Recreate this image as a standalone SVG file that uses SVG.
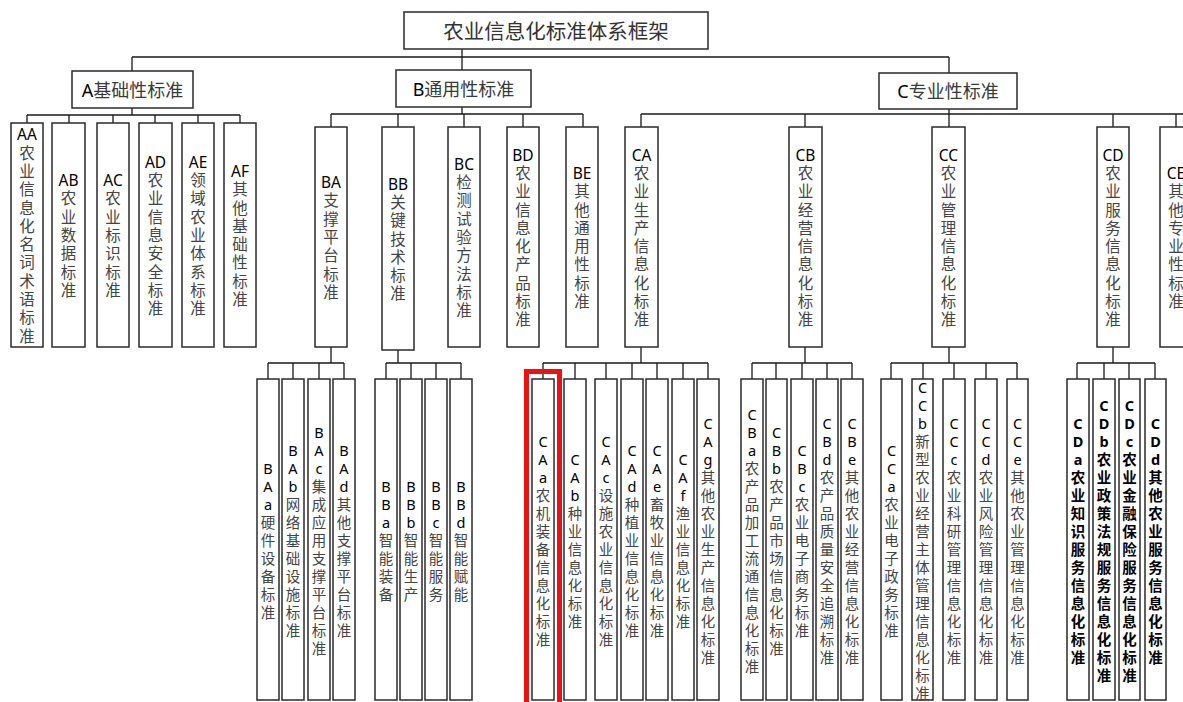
<svg xmlns="http://www.w3.org/2000/svg" width="1183" height="702" viewBox="0 0 1183 702">
<style>
.b{fill:#fff;stroke:#2b2b2b;stroke-width:1.5}
.c{fill:none;stroke:#1a1a1a;stroke-width:1.3}
text{font-family:"Noto Sans","Noto Sans CJK SC",sans-serif;text-anchor:middle;dominant-baseline:central;fill:#444}
.h{font-size:20.5px;fill:#333}
.g{font-size:18px;fill:#3a3a3a}
.m{font-size:15.5px}
.s{font-size:14.5px}
.l{fill:#000}
.k{fill:#000;font-weight:bold}
</style>
<rect width="1183" height="702" fill="#fff"/>
<g id="connectors" class="c">
<path d="M462 49V70M132 57H949M132 57V71M949 57V73"/>
<path d="M132 108V115M27 115H240M27 115V123M69 115V123M113 115V123M155 115V123M198 115V123M240 115V123"/>
<path d="M462 107V114M331 114H583M331 114V127M398 114V127M464 114V127M523 114V127M583 114V127"/>
<path d="M949 109V114M641 114H1183M641 114V127M805 114V127M949 114V127M1113 114V127M1176 114V127"/>
<path d="M331 347V363M268 363H344M268 363V379M293 363V379M319 363V379M344 363V379"/>
<path d="M398 350V363M386 363H461M386 363V379M411 363V379M436 363V379M461 363V379"/>
<path d="M641 347V363M543 363H708M543 363V379M575 363V379M606 363V379M632 363V379M657 363V379M683 363V379M708 363V379"/>
<path d="M805 347V363M752 363H852M752 363V379M776 363V379M802 363V379M827 363V379M852 363V379"/>
<path d="M949 347V363M891 363H1017M891 363V379M923 363V379M954 363V379M986 363V379M1017 363V379"/>
<path d="M1113 347V363M1077 363H1155M1077 363V379M1104 363V379M1129 363V379M1155 363V379"/>
</g>
<g id="root"><rect class="b" x="404" y="12" width="304" height="37"/><text class="h" x="556" y="31">农业信息化标准体系框架</text></g>
<g id="A"><rect class="b" x="72" y="71" width="121" height="37"/><text class="g" x="132.5" y="89.5"><tspan class="l">A</tspan>基础性标准</text></g>
<g id="B"><rect class="b" x="396" y="70" width="135" height="37"/><text class="g" x="463.5" y="88.5"><tspan class="l">B</tspan>通用性标准</text></g>
<g id="C"><rect class="b" x="879" y="73" width="138" height="36"/><text class="g" x="948" y="91"><tspan class="l">C</tspan>专业性标准</text></g>

<g id="AA"><rect class="b" x="11" y="123" width="32" height="224"/><text class="m" y="134.35"><tspan class="l" x="27">AA</tspan><tspan x="27" dy="18.3">农</tspan><tspan x="27" dy="18.3">业</tspan><tspan x="27" dy="18.3">信</tspan><tspan x="27" dy="18.3">息</tspan><tspan x="27" dy="18.3">化</tspan><tspan x="27" dy="18.3">名</tspan><tspan x="27" dy="18.3">词</tspan><tspan x="27" dy="18.3">术</tspan><tspan x="27" dy="18.3">语</tspan><tspan x="27" dy="18.3">标</tspan><tspan x="27" dy="18.3">准</tspan></text></g>
<g id="AB"><rect class="b" x="52" y="123" width="33" height="224"/><text class="m" y="180.1"><tspan class="l" x="68.5">AB</tspan><tspan x="68.5" dy="18.3">农</tspan><tspan x="68.5" dy="18.3">业</tspan><tspan x="68.5" dy="18.3">数</tspan><tspan x="68.5" dy="18.3">据</tspan><tspan x="68.5" dy="18.3">标</tspan><tspan x="68.5" dy="18.3">准</tspan></text></g>
<g id="AC"><rect class="b" x="97" y="123" width="32" height="224"/><text class="m" y="180.1"><tspan class="l" x="113">AC</tspan><tspan x="113" dy="18.3">农</tspan><tspan x="113" dy="18.3">业</tspan><tspan x="113" dy="18.3">标</tspan><tspan x="113" dy="18.3">识</tspan><tspan x="113" dy="18.3">标</tspan><tspan x="113" dy="18.3">准</tspan></text></g>
<g id="AD"><rect class="b" x="139" y="123" width="33" height="224"/><text class="m" y="161.8"><tspan class="l" x="155.5">AD</tspan><tspan x="155.5" dy="18.3">农</tspan><tspan x="155.5" dy="18.3">业</tspan><tspan x="155.5" dy="18.3">信</tspan><tspan x="155.5" dy="18.3">息</tspan><tspan x="155.5" dy="18.3">安</tspan><tspan x="155.5" dy="18.3">全</tspan><tspan x="155.5" dy="18.3">标</tspan><tspan x="155.5" dy="18.3">准</tspan></text></g>
<g id="AE"><rect class="b" x="182" y="123" width="32" height="224"/><text class="m" y="161.8"><tspan class="l" x="198">AE</tspan><tspan x="198" dy="18.3">领</tspan><tspan x="198" dy="18.3">域</tspan><tspan x="198" dy="18.3">农</tspan><tspan x="198" dy="18.3">业</tspan><tspan x="198" dy="18.3">体</tspan><tspan x="198" dy="18.3">系</tspan><tspan x="198" dy="18.3">标</tspan><tspan x="198" dy="18.3">准</tspan></text></g>
<g id="AF"><rect class="b" x="224" y="123" width="32" height="224"/><text class="m" y="170.95"><tspan class="l" x="240">AF</tspan><tspan x="240" dy="18.3">其</tspan><tspan x="240" dy="18.3">他</tspan><tspan x="240" dy="18.3">基</tspan><tspan x="240" dy="18.3">础</tspan><tspan x="240" dy="18.3">性</tspan><tspan x="240" dy="18.3">标</tspan><tspan x="240" dy="18.3">准</tspan></text></g>

<g id="BA"><rect class="b" x="315" y="127" width="32" height="220"/><text class="m" y="182.1"><tspan class="l" x="331">BA</tspan><tspan x="331" dy="18.3">支</tspan><tspan x="331" dy="18.3">撑</tspan><tspan x="331" dy="18.3">平</tspan><tspan x="331" dy="18.3">台</tspan><tspan x="331" dy="18.3">标</tspan><tspan x="331" dy="18.3">准</tspan></text></g>
<g id="BB"><rect class="b" x="382" y="127" width="32" height="223"/><text class="m" y="183.6"><tspan class="l" x="398">BB</tspan><tspan x="398" dy="18.3">关</tspan><tspan x="398" dy="18.3">键</tspan><tspan x="398" dy="18.3">技</tspan><tspan x="398" dy="18.3">术</tspan><tspan x="398" dy="18.3">标</tspan><tspan x="398" dy="18.3">准</tspan></text></g>
<g id="BC"><rect class="b" x="448" y="127" width="32" height="220"/><text class="m" y="163.8"><tspan class="l" x="464">BC</tspan><tspan x="464" dy="18.3">检</tspan><tspan x="464" dy="18.3">测</tspan><tspan x="464" dy="18.3">试</tspan><tspan x="464" dy="18.3">验</tspan><tspan x="464" dy="18.3">方</tspan><tspan x="464" dy="18.3">法</tspan><tspan x="464" dy="18.3">标</tspan><tspan x="464" dy="18.3">准</tspan></text></g>
<g id="BD"><rect class="b" x="507" y="127" width="32" height="220"/><text class="m" y="154.65"><tspan class="l" x="523">BD</tspan><tspan x="523" dy="18.3">农</tspan><tspan x="523" dy="18.3">业</tspan><tspan x="523" dy="18.3">信</tspan><tspan x="523" dy="18.3">息</tspan><tspan x="523" dy="18.3">化</tspan><tspan x="523" dy="18.3">产</tspan><tspan x="523" dy="18.3">品</tspan><tspan x="523" dy="18.3">标</tspan><tspan x="523" dy="18.3">准</tspan></text></g>
<g id="BE"><rect class="b" x="566" y="127" width="32" height="220"/><text class="m" y="172.95"><tspan class="l" x="582">BE</tspan><tspan x="582" dy="18.3">其</tspan><tspan x="582" dy="18.3">他</tspan><tspan x="582" dy="18.3">通</tspan><tspan x="582" dy="18.3">用</tspan><tspan x="582" dy="18.3">性</tspan><tspan x="582" dy="18.3">标</tspan><tspan x="582" dy="18.3">准</tspan></text></g>

<g id="CA"><rect class="b" x="625" y="127" width="33" height="220"/><text class="m" y="154.65"><tspan class="l" x="641.5">CA</tspan><tspan x="641.5" dy="18.3">农</tspan><tspan x="641.5" dy="18.3">业</tspan><tspan x="641.5" dy="18.3">生</tspan><tspan x="641.5" dy="18.3">产</tspan><tspan x="641.5" dy="18.3">信</tspan><tspan x="641.5" dy="18.3">息</tspan><tspan x="641.5" dy="18.3">化</tspan><tspan x="641.5" dy="18.3">标</tspan><tspan x="641.5" dy="18.3">准</tspan></text></g>
<g id="CB"><rect class="b" x="789" y="127" width="33" height="220"/><text class="m" y="154.65"><tspan class="l" x="805.5">CB</tspan><tspan x="805.5" dy="18.3">农</tspan><tspan x="805.5" dy="18.3">业</tspan><tspan x="805.5" dy="18.3">经</tspan><tspan x="805.5" dy="18.3">营</tspan><tspan x="805.5" dy="18.3">信</tspan><tspan x="805.5" dy="18.3">息</tspan><tspan x="805.5" dy="18.3">化</tspan><tspan x="805.5" dy="18.3">标</tspan><tspan x="805.5" dy="18.3">准</tspan></text></g>
<g id="CC"><rect class="b" x="932" y="127" width="33" height="220"/><text class="m" y="154.65"><tspan class="l" x="948.5">CC</tspan><tspan x="948.5" dy="18.3">农</tspan><tspan x="948.5" dy="18.3">业</tspan><tspan x="948.5" dy="18.3">管</tspan><tspan x="948.5" dy="18.3">理</tspan><tspan x="948.5" dy="18.3">信</tspan><tspan x="948.5" dy="18.3">息</tspan><tspan x="948.5" dy="18.3">化</tspan><tspan x="948.5" dy="18.3">标</tspan><tspan x="948.5" dy="18.3">准</tspan></text></g>
<g id="CD"><rect class="b" x="1097" y="127" width="32" height="220"/><text class="m" y="154.65"><tspan class="l" x="1113">CD</tspan><tspan x="1113" dy="18.3">农</tspan><tspan x="1113" dy="18.3">业</tspan><tspan x="1113" dy="18.3">服</tspan><tspan x="1113" dy="18.3">务</tspan><tspan x="1113" dy="18.3">信</tspan><tspan x="1113" dy="18.3">息</tspan><tspan x="1113" dy="18.3">化</tspan><tspan x="1113" dy="18.3">标</tspan><tspan x="1113" dy="18.3">准</tspan></text></g>
<g id="CE"><rect class="b" x="1160" y="127" width="32" height="220"/><text class="m" y="172.95"><tspan class="l" x="1176">CE</tspan><tspan x="1176" dy="18.3">其</tspan><tspan x="1176" dy="18.3">他</tspan><tspan x="1176" dy="18.3">专</tspan><tspan x="1176" dy="18.3">业</tspan><tspan x="1176" dy="18.3">性</tspan><tspan x="1176" dy="18.3">标</tspan><tspan x="1176" dy="18.3">准</tspan></text></g>

<g id="BAa"><rect class="b" x="257" y="379" width="22" height="321"/><text class="s" y="467.5"><tspan class="l" x="268">B</tspan><tspan class="l" x="268" dy="18">A</tspan><tspan class="l" x="268" dy="18">a</tspan><tspan x="268" dy="18">硬</tspan><tspan x="268" dy="18">件</tspan><tspan x="268" dy="18">设</tspan><tspan x="268" dy="18">备</tspan><tspan x="268" dy="18">标</tspan><tspan x="268" dy="18">准</tspan></text></g>
<g id="BAb"><rect class="b" x="282" y="379" width="22" height="321"/><text class="s" y="449.5"><tspan class="l" x="293">B</tspan><tspan class="l" x="293" dy="18">A</tspan><tspan class="l" x="293" dy="18">b</tspan><tspan x="293" dy="18">网</tspan><tspan x="293" dy="18">络</tspan><tspan x="293" dy="18">基</tspan><tspan x="293" dy="18">础</tspan><tspan x="293" dy="18">设</tspan><tspan x="293" dy="18">施</tspan><tspan x="293" dy="18">标</tspan><tspan x="293" dy="18">准</tspan></text></g>
<g id="BAc"><rect class="b" x="308" y="379" width="22" height="321"/><text class="s" y="431.5"><tspan class="l" x="319">B</tspan><tspan class="l" x="319" dy="18">A</tspan><tspan class="l" x="319" dy="18">c</tspan><tspan x="319" dy="18">集</tspan><tspan x="319" dy="18">成</tspan><tspan x="319" dy="18">应</tspan><tspan x="319" dy="18">用</tspan><tspan x="319" dy="18">支</tspan><tspan x="319" dy="18">撑</tspan><tspan x="319" dy="18">平</tspan><tspan x="319" dy="18">台</tspan><tspan x="319" dy="18">标</tspan><tspan x="319" dy="18">准</tspan></text></g>
<g id="BAd"><rect class="b" x="333" y="379" width="22" height="321"/><text class="s" y="449.5"><tspan class="l" x="344">B</tspan><tspan class="l" x="344" dy="18">A</tspan><tspan class="l" x="344" dy="18">d</tspan><tspan x="344" dy="18">其</tspan><tspan x="344" dy="18">他</tspan><tspan x="344" dy="18">支</tspan><tspan x="344" dy="18">撑</tspan><tspan x="344" dy="18">平</tspan><tspan x="344" dy="18">台</tspan><tspan x="344" dy="18">标</tspan><tspan x="344" dy="18">准</tspan></text></g>

<g id="BBa"><rect class="b" x="375" y="379" width="22" height="321"/><text class="s" y="485.5"><tspan class="l" x="386">B</tspan><tspan class="l" x="386" dy="18">B</tspan><tspan class="l" x="386" dy="18">a</tspan><tspan x="386" dy="18">智</tspan><tspan x="386" dy="18">能</tspan><tspan x="386" dy="18">装</tspan><tspan x="386" dy="18">备</tspan></text></g>
<g id="BBb"><rect class="b" x="400" y="379" width="22" height="321"/><text class="s" y="485.5"><tspan class="l" x="411">B</tspan><tspan class="l" x="411" dy="18">B</tspan><tspan class="l" x="411" dy="18">b</tspan><tspan x="411" dy="18">智</tspan><tspan x="411" dy="18">能</tspan><tspan x="411" dy="18">生</tspan><tspan x="411" dy="18">产</tspan></text></g>
<g id="BBc"><rect class="b" x="425" y="379" width="22" height="321"/><text class="s" y="485.5"><tspan class="l" x="436">B</tspan><tspan class="l" x="436" dy="18">B</tspan><tspan class="l" x="436" dy="18">c</tspan><tspan x="436" dy="18">智</tspan><tspan x="436" dy="18">能</tspan><tspan x="436" dy="18">服</tspan><tspan x="436" dy="18">务</tspan></text></g>
<g id="BBd"><rect class="b" x="450" y="379" width="22" height="321"/><text class="s" y="485.5"><tspan class="l" x="461">B</tspan><tspan class="l" x="461" dy="18">B</tspan><tspan class="l" x="461" dy="18">d</tspan><tspan x="461" dy="18">智</tspan><tspan x="461" dy="18">能</tspan><tspan x="461" dy="18">赋</tspan><tspan x="461" dy="18">能</tspan></text></g>

<g id="CAa"><rect class="b" x="532" y="379" width="22" height="321"/><text class="s" y="440.5"><tspan class="l" x="543">C</tspan><tspan class="l" x="543" dy="18">A</tspan><tspan class="l" x="543" dy="18">a</tspan><tspan x="543" dy="18">农</tspan><tspan x="543" dy="18">机</tspan><tspan x="543" dy="18">装</tspan><tspan x="543" dy="18">备</tspan><tspan x="543" dy="18">信</tspan><tspan x="543" dy="18">息</tspan><tspan x="543" dy="18">化</tspan><tspan x="543" dy="18">标</tspan><tspan x="543" dy="18">准</tspan></text></g>
<g id="CAb"><rect class="b" x="564" y="379" width="22" height="321"/><text class="s" y="458.5"><tspan class="l" x="575">C</tspan><tspan class="l" x="575" dy="18">A</tspan><tspan class="l" x="575" dy="18">b</tspan><tspan x="575" dy="18">种</tspan><tspan x="575" dy="18">业</tspan><tspan x="575" dy="18">信</tspan><tspan x="575" dy="18">息</tspan><tspan x="575" dy="18">化</tspan><tspan x="575" dy="18">标</tspan><tspan x="575" dy="18">准</tspan></text></g>
<g id="CAc"><rect class="b" x="595" y="379" width="22" height="321"/><text class="s" y="440.5"><tspan class="l" x="606">C</tspan><tspan class="l" x="606" dy="18">A</tspan><tspan class="l" x="606" dy="18">c</tspan><tspan x="606" dy="18">设</tspan><tspan x="606" dy="18">施</tspan><tspan x="606" dy="18">农</tspan><tspan x="606" dy="18">业</tspan><tspan x="606" dy="18">信</tspan><tspan x="606" dy="18">息</tspan><tspan x="606" dy="18">化</tspan><tspan x="606" dy="18">标</tspan><tspan x="606" dy="18">准</tspan></text></g>
<g id="CAd"><rect class="b" x="621" y="379" width="22" height="321"/><text class="s" y="449.5"><tspan class="l" x="632">C</tspan><tspan class="l" x="632" dy="18">A</tspan><tspan class="l" x="632" dy="18">d</tspan><tspan x="632" dy="18">种</tspan><tspan x="632" dy="18">植</tspan><tspan x="632" dy="18">业</tspan><tspan x="632" dy="18">信</tspan><tspan x="632" dy="18">息</tspan><tspan x="632" dy="18">化</tspan><tspan x="632" dy="18">标</tspan><tspan x="632" dy="18">准</tspan></text></g>
<g id="CAe"><rect class="b" x="646" y="379" width="22" height="321"/><text class="s" y="449.5"><tspan class="l" x="657">C</tspan><tspan class="l" x="657" dy="18">A</tspan><tspan class="l" x="657" dy="18">e</tspan><tspan x="657" dy="18">畜</tspan><tspan x="657" dy="18">牧</tspan><tspan x="657" dy="18">业</tspan><tspan x="657" dy="18">信</tspan><tspan x="657" dy="18">息</tspan><tspan x="657" dy="18">化</tspan><tspan x="657" dy="18">标</tspan><tspan x="657" dy="18">准</tspan></text></g>
<g id="CAf"><rect class="b" x="672" y="379" width="22" height="321"/><text class="s" y="458.5"><tspan class="l" x="683">C</tspan><tspan class="l" x="683" dy="18">A</tspan><tspan class="l" x="683" dy="18">f</tspan><tspan x="683" dy="18">渔</tspan><tspan x="683" dy="18">业</tspan><tspan x="683" dy="18">信</tspan><tspan x="683" dy="18">息</tspan><tspan x="683" dy="18">化</tspan><tspan x="683" dy="18">标</tspan><tspan x="683" dy="18">准</tspan></text></g>
<g id="CAg"><rect class="b" x="697" y="379" width="22" height="321"/><text class="s" y="422.5"><tspan class="l" x="708">C</tspan><tspan class="l" x="708" dy="18">A</tspan><tspan class="l" x="708" dy="18">g</tspan><tspan x="708" dy="18">其</tspan><tspan x="708" dy="18">他</tspan><tspan x="708" dy="18">农</tspan><tspan x="708" dy="18">业</tspan><tspan x="708" dy="18">生</tspan><tspan x="708" dy="18">产</tspan><tspan x="708" dy="18">信</tspan><tspan x="708" dy="18">息</tspan><tspan x="708" dy="18">化</tspan><tspan x="708" dy="18">标</tspan><tspan x="708" dy="18">准</tspan></text></g>

<g id="CBa"><rect class="b" x="741" y="379" width="22" height="321"/><text class="s" y="413.5"><tspan class="l" x="752">C</tspan><tspan class="l" x="752" dy="18">B</tspan><tspan class="l" x="752" dy="18">a</tspan><tspan x="752" dy="18">农</tspan><tspan x="752" dy="18">产</tspan><tspan x="752" dy="18">品</tspan><tspan x="752" dy="18">加</tspan><tspan x="752" dy="18">工</tspan><tspan x="752" dy="18">流</tspan><tspan x="752" dy="18">通</tspan><tspan x="752" dy="18">信</tspan><tspan x="752" dy="18">息</tspan><tspan x="752" dy="18">化</tspan><tspan x="752" dy="18">标</tspan><tspan x="752" dy="18">准</tspan></text></g>
<g id="CBb"><rect class="b" x="766" y="379" width="21" height="321"/><text class="s" y="431.5"><tspan class="l" x="776.5">C</tspan><tspan class="l" x="776.5" dy="18">B</tspan><tspan class="l" x="776.5" dy="18">b</tspan><tspan x="776.5" dy="18">农</tspan><tspan x="776.5" dy="18">产</tspan><tspan x="776.5" dy="18">品</tspan><tspan x="776.5" dy="18">市</tspan><tspan x="776.5" dy="18">场</tspan><tspan x="776.5" dy="18">信</tspan><tspan x="776.5" dy="18">息</tspan><tspan x="776.5" dy="18">化</tspan><tspan x="776.5" dy="18">标</tspan><tspan x="776.5" dy="18">准</tspan></text></g>
<g id="CBc"><rect class="b" x="791" y="379" width="22" height="321"/><text class="s" y="449.5"><tspan class="l" x="802">C</tspan><tspan class="l" x="802" dy="18">B</tspan><tspan class="l" x="802" dy="18">c</tspan><tspan x="802" dy="18">农</tspan><tspan x="802" dy="18">业</tspan><tspan x="802" dy="18">电</tspan><tspan x="802" dy="18">子</tspan><tspan x="802" dy="18">商</tspan><tspan x="802" dy="18">务</tspan><tspan x="802" dy="18">标</tspan><tspan x="802" dy="18">准</tspan></text></g>
<g id="CBd"><rect class="b" x="816" y="379" width="22" height="321"/><text class="s" y="422.5"><tspan class="l" x="827">C</tspan><tspan class="l" x="827" dy="18">B</tspan><tspan class="l" x="827" dy="18">d</tspan><tspan x="827" dy="18">农</tspan><tspan x="827" dy="18">产</tspan><tspan x="827" dy="18">品</tspan><tspan x="827" dy="18">质</tspan><tspan x="827" dy="18">量</tspan><tspan x="827" dy="18">安</tspan><tspan x="827" dy="18">全</tspan><tspan x="827" dy="18">追</tspan><tspan x="827" dy="18">溯</tspan><tspan x="827" dy="18">标</tspan><tspan x="827" dy="18">准</tspan></text></g>
<g id="CBe"><rect class="b" x="841" y="379" width="22" height="321"/><text class="s" y="422.5"><tspan class="l" x="852">C</tspan><tspan class="l" x="852" dy="18">B</tspan><tspan class="l" x="852" dy="18">e</tspan><tspan x="852" dy="18">其</tspan><tspan x="852" dy="18">他</tspan><tspan x="852" dy="18">农</tspan><tspan x="852" dy="18">业</tspan><tspan x="852" dy="18">经</tspan><tspan x="852" dy="18">营</tspan><tspan x="852" dy="18">信</tspan><tspan x="852" dy="18">息</tspan><tspan x="852" dy="18">化</tspan><tspan x="852" dy="18">标</tspan><tspan x="852" dy="18">准</tspan></text></g>

<g id="CCa"><rect class="b" x="881" y="379" width="21" height="321"/><text class="s" y="449.5"><tspan class="l" x="891.5">C</tspan><tspan class="l" x="891.5" dy="18">C</tspan><tspan class="l" x="891.5" dy="18">a</tspan><tspan x="891.5" dy="18">农</tspan><tspan x="891.5" dy="18">业</tspan><tspan x="891.5" dy="18">电</tspan><tspan x="891.5" dy="18">子</tspan><tspan x="891.5" dy="18">政</tspan><tspan x="891.5" dy="18">务</tspan><tspan x="891.5" dy="18">标</tspan><tspan x="891.5" dy="18">准</tspan></text></g>
<g id="CCb"><rect class="b" x="912" y="379" width="21" height="321"/><text class="s" y="386.5"><tspan class="l" x="922.5">C</tspan><tspan class="l" x="922.5" dy="18">C</tspan><tspan class="l" x="922.5" dy="18">b</tspan><tspan x="922.5" dy="18">新</tspan><tspan x="922.5" dy="18">型</tspan><tspan x="922.5" dy="18">农</tspan><tspan x="922.5" dy="18">业</tspan><tspan x="922.5" dy="18">经</tspan><tspan x="922.5" dy="18">营</tspan><tspan x="922.5" dy="18">主</tspan><tspan x="922.5" dy="18">体</tspan><tspan x="922.5" dy="18">管</tspan><tspan x="922.5" dy="18">理</tspan><tspan x="922.5" dy="18">信</tspan><tspan x="922.5" dy="18">息</tspan><tspan x="922.5" dy="18">化</tspan><tspan x="922.5" dy="18">标</tspan><tspan x="922.5" dy="18">准</tspan></text></g>
<g id="CCc"><rect class="b" x="943" y="379" width="22" height="321"/><text class="s" y="422.5"><tspan class="l" x="954">C</tspan><tspan class="l" x="954" dy="18">C</tspan><tspan class="l" x="954" dy="18">c</tspan><tspan x="954" dy="18">农</tspan><tspan x="954" dy="18">业</tspan><tspan x="954" dy="18">科</tspan><tspan x="954" dy="18">研</tspan><tspan x="954" dy="18">管</tspan><tspan x="954" dy="18">理</tspan><tspan x="954" dy="18">信</tspan><tspan x="954" dy="18">息</tspan><tspan x="954" dy="18">化</tspan><tspan x="954" dy="18">标</tspan><tspan x="954" dy="18">准</tspan></text></g>
<g id="CCd"><rect class="b" x="975" y="379" width="22" height="321"/><text class="s" y="422.5"><tspan class="l" x="986">C</tspan><tspan class="l" x="986" dy="18">C</tspan><tspan class="l" x="986" dy="18">d</tspan><tspan x="986" dy="18">农</tspan><tspan x="986" dy="18">业</tspan><tspan x="986" dy="18">风</tspan><tspan x="986" dy="18">险</tspan><tspan x="986" dy="18">管</tspan><tspan x="986" dy="18">理</tspan><tspan x="986" dy="18">信</tspan><tspan x="986" dy="18">息</tspan><tspan x="986" dy="18">化</tspan><tspan x="986" dy="18">标</tspan><tspan x="986" dy="18">准</tspan></text></g>
<g id="CCe"><rect class="b" x="1007" y="379" width="21" height="321"/><text class="s" y="422.5"><tspan class="l" x="1017.5">C</tspan><tspan class="l" x="1017.5" dy="18">C</tspan><tspan class="l" x="1017.5" dy="18">e</tspan><tspan x="1017.5" dy="18">其</tspan><tspan x="1017.5" dy="18">他</tspan><tspan x="1017.5" dy="18">农</tspan><tspan x="1017.5" dy="18">业</tspan><tspan x="1017.5" dy="18">管</tspan><tspan x="1017.5" dy="18">理</tspan><tspan x="1017.5" dy="18">信</tspan><tspan x="1017.5" dy="18">息</tspan><tspan x="1017.5" dy="18">化</tspan><tspan x="1017.5" dy="18">标</tspan><tspan x="1017.5" dy="18">准</tspan></text></g>

<g id="CDa"><rect class="b" x="1067" y="379" width="22" height="321"/><text class="s k" y="422.5"><tspan x="1078">C</tspan><tspan x="1078" dy="18">D</tspan><tspan x="1078" dy="18">a</tspan><tspan x="1078" dy="18">农</tspan><tspan x="1078" dy="18">业</tspan><tspan x="1078" dy="18">知</tspan><tspan x="1078" dy="18">识</tspan><tspan x="1078" dy="18">服</tspan><tspan x="1078" dy="18">务</tspan><tspan x="1078" dy="18">信</tspan><tspan x="1078" dy="18">息</tspan><tspan x="1078" dy="18">化</tspan><tspan x="1078" dy="18">标</tspan><tspan x="1078" dy="18">准</tspan></text></g>
<g id="CDb"><rect class="b" x="1093" y="379" width="22" height="321"/><text class="s k" y="404.5"><tspan x="1104">C</tspan><tspan x="1104" dy="18">D</tspan><tspan x="1104" dy="18">b</tspan><tspan x="1104" dy="18">农</tspan><tspan x="1104" dy="18">业</tspan><tspan x="1104" dy="18">政</tspan><tspan x="1104" dy="18">策</tspan><tspan x="1104" dy="18">法</tspan><tspan x="1104" dy="18">规</tspan><tspan x="1104" dy="18">服</tspan><tspan x="1104" dy="18">务</tspan><tspan x="1104" dy="18">信</tspan><tspan x="1104" dy="18">息</tspan><tspan x="1104" dy="18">化</tspan><tspan x="1104" dy="18">标</tspan><tspan x="1104" dy="18">准</tspan></text></g>
<g id="CDc"><rect class="b" x="1119" y="379" width="21" height="321"/><text class="s k" y="404.5"><tspan x="1129.5">C</tspan><tspan x="1129.5" dy="18">D</tspan><tspan x="1129.5" dy="18">c</tspan><tspan x="1129.5" dy="18">农</tspan><tspan x="1129.5" dy="18">业</tspan><tspan x="1129.5" dy="18">金</tspan><tspan x="1129.5" dy="18">融</tspan><tspan x="1129.5" dy="18">保</tspan><tspan x="1129.5" dy="18">险</tspan><tspan x="1129.5" dy="18">服</tspan><tspan x="1129.5" dy="18">务</tspan><tspan x="1129.5" dy="18">信</tspan><tspan x="1129.5" dy="18">息</tspan><tspan x="1129.5" dy="18">化</tspan><tspan x="1129.5" dy="18">标</tspan><tspan x="1129.5" dy="18">准</tspan></text></g>
<g id="CDd"><rect class="b" x="1145" y="379" width="21" height="321"/><text class="s k" y="422.5"><tspan x="1155.5">C</tspan><tspan x="1155.5" dy="18">D</tspan><tspan x="1155.5" dy="18">d</tspan><tspan x="1155.5" dy="18">其</tspan><tspan x="1155.5" dy="18">他</tspan><tspan x="1155.5" dy="18">农</tspan><tspan x="1155.5" dy="18">业</tspan><tspan x="1155.5" dy="18">服</tspan><tspan x="1155.5" dy="18">务</tspan><tspan x="1155.5" dy="18">信</tspan><tspan x="1155.5" dy="18">息</tspan><tspan x="1155.5" dy="18">化</tspan><tspan x="1155.5" dy="18">标</tspan><tspan x="1155.5" dy="18">准</tspan></text></g>

<g id="highlight"><path d="M526.5 710V371.5H559.5V710" fill="none" stroke="#ee1111" stroke-width="5"/></g>
</svg>
